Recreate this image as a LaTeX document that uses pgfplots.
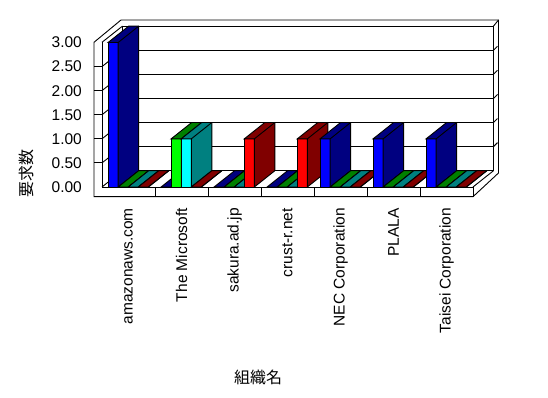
\documentclass[border=0pt]{standalone}
\usepackage{pgfplots}
\pgfplotsset{compat=1.18}
\usepackage{fontspec}
\setmainfont{Liberation Sans}
\newfontfamily\cjk{Noto Sans CJK JP}
\definecolor{cBlue}{RGB}{0,0,255}
\definecolor{cBlueD}{RGB}{0,0,128}
\definecolor{cGreen}{RGB}{0,255,0}
\definecolor{cGreenD}{RGB}{0,128,0}
\definecolor{cCyan}{RGB}{0,255,255}
\definecolor{cCyanD}{RGB}{0,128,128}
\definecolor{cRed}{RGB}{255,0,0}
\definecolor{cRedD}{RGB}{128,0,0}

% top and right faces of a 3D bar, drawn as a marker at the top of the bar;
% its height comes from the bar's own value (point meta = y, range 0..3 -> 0..144.5pt)
\pgfdeclareplotmark{prism}{%
  \pgfmathsetmacro\prismh{\pgfplotspointmetatransformed*0.1445}%
  \pgfpathmoveto{\pgfqpoint{-5.035pt}{0pt}}%
  \pgfpathlineto{\pgfqpoint{15.465pt}{16.3pt}}%
  \pgfpathlineto{\pgfqpoint{25.535pt}{16.3pt}}%
  \pgfpathlineto{\pgfqpoint{25.535pt}{\dimexpr16.3pt-\prismh pt\relax}}%
  \pgfpathlineto{\pgfqpoint{5.035pt}{-\prismh pt}}%
  \pgfpathlineto{\pgfqpoint{5.035pt}{0pt}}%
  \pgfpathclose
  \pgfusepath{fill,stroke}%
  \pgfpathmoveto{\pgfqpoint{5.035pt}{0pt}}%
  \pgfpathlineto{\pgfqpoint{25.535pt}{16.3pt}}%
  \pgfusepath{stroke}%
}

\pgfplotsset{
  bar3d/.style n args={3}{fill=#1, draw=black, line width=0.9pt,
    bar shift=0pt, x filter/.expression={x+#3},
    scatter, mark=prism, point meta=y,
    scatter/use mapped color={draw=black, fill=#2},
    mark options={line join=miter, line width=0.9pt}}
}
\newcommand\catbars[5]{%
  \addplot[bar3d={cBlue}{cBlueD}{-0.29}] coordinates {(#1,#2)};
  \addplot[bar3d={cGreen}{cGreenD}{-0.10}] coordinates {(#1,#3)};
  \addplot[bar3d={cCyan}{cCyanD}{0.09}] coordinates {(#1,#4)};
  \addplot[bar3d={cRed}{cRedD}{0.28}] coordinates {(#1,#5)};
}

\begin{document}
\begin{tikzpicture}[x=1pt,y=1pt]
\useasboundingbox (0,0) rectangle (548,398);
\begin{scope}[line width=0.9pt, line join=miter]
  % outer silhouette
  \draw (94,201.3) -- (94,355.7) -- (121,378) -- (498.5,378) -- (498.5,225) -- (473,201.3) -- cycle;
  % left wall front face inner edge and top
  \draw (102,211) -- (102,355.7);
  \draw (102,355.7) -- (122.5,371.9);
  % back wall inner face
  \draw (122.5,227.3) rectangle (493.5,371.9);
  \draw (493.5,371.9) -- (498.5,378);
  % floor
  \draw (102,211) -- (473,211) -- (473,201.3);
  \draw (473,211) -- (493.5,227.3);
  \foreach \k in {1,...,6} { \draw ({102+\k*53},201.3) -- ({102+\k*53},211); }
  % gridlines
  \foreach \v in {0,0.5,1,1.5,2,2.5} {
    \draw (102,{211+\v*48.17}) -- (122.5,{227.3+\v*48.17});
  }
  \foreach \v in {0.5,1,1.5,2,2.5} {
    \draw (94,{211+\v*48.17}) -- (102,{211+\v*48.17});
    \draw (122.5,{227.3+\v*48.17}) -- (493.5,{227.3+\v*48.17});
    \draw (493.5,{227.3+\v*48.17}) -- (497.5,{231.3+\v*48.17});
  }
\end{scope}
\begin{axis}[
  at={(102pt,211pt)}, anchor=south west,
  scale only axis, width=371pt, height=144.5pt,
  xmin=-0.5, xmax=6.5, ymin=0, ymax=3,
  point meta min=0, point meta max=3,
  clip=false, clip mode=individual,
  ybar, bar width=0.19,
  axis line style={draw=none},
  major tick length=0pt,
  ytick={0,0.5,1,1.5,2,2.5,3},
  xtick={0,1,2,3,4,5,6},
  xticklabels={amazonaws.com, The Microsoft, sakura.ad.jp, crust-r.net, NEC Corporation, PLALA, Taisei Corporation},
  /pgf/number format/assume math mode=true,
  yticklabel style={/pgf/number format/fixed, /pgf/number format/fixed zerofill, /pgf/number format/precision=2, anchor=east, inner sep=0pt, xshift=-20pt},
  xticklabel style={yshift=-21pt, rotate=90, anchor=east, inner sep=0pt},
  tick label style={font=\fontsize{15.5pt}{17pt}\selectfont},
  ylabel={\cjk 要求数},
  ylabel style={at={(axis description cs:-0.205,0.09)}, anchor=center, font=\fontsize{16pt}{18pt}\selectfont},
  xlabel={\cjk 組織名},
  xlabel style={at={(axis description cs:0.4205,-1.315)}, anchor=center, font=\fontsize{16pt}{18pt}\selectfont},
]
\catbars{0}{3}{0}{0}{0}
\catbars{1}{0}{1}{1}{0}
\catbars{2}{0}{0}{0}{1}
\catbars{3}{0}{0}{0}{1}
\catbars{4}{1}{0}{0}{0}
\catbars{5}{1}{0}{0}{0}
\catbars{6}{1}{0}{0}{0}
\end{axis}
\end{tikzpicture}
\end{document}
